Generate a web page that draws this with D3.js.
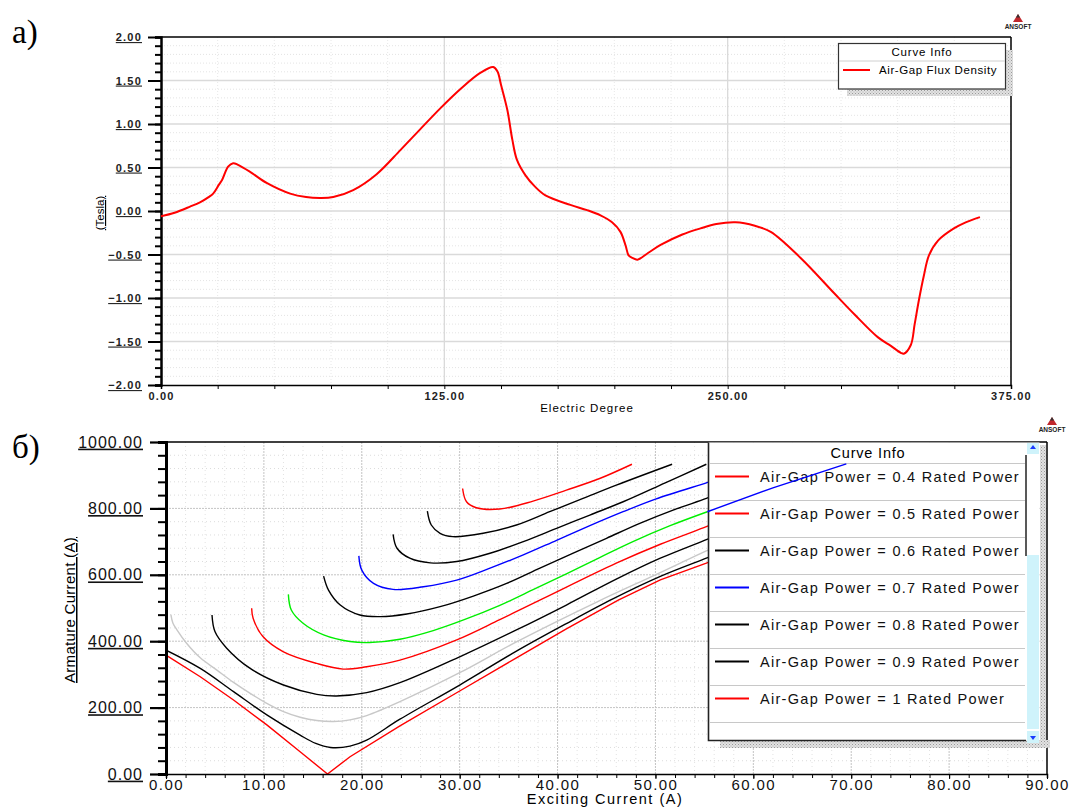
<!DOCTYPE html>
<html><head><meta charset="utf-8">
<script src="https://cdn.jsdelivr.net/npm/d3@7"></script>
<style>body{margin:0;background:#fff}svg{display:block}</style>
</head><body>
<svg id="c" width="1069" height="807"></svg>
<script>
// ================= DATA =================
// Panel а : air-gap flux density vs electric degree
const fluxPoints = [[0,-0.06],[6,-0.02],[12.8,0.05],[17.2,0.10],[21,0.16],[23,0.2],[25.5,0.3],[27,0.36],[29.6,0.51],[31.8,0.55],[34,0.53],[39.3,0.45],[46.8,0.32],[57,0.2],[64,0.16],[70.2,0.15],[76,0.16],[84.8,0.24],[95,0.42],[105.6,0.70],[114,0.93],[123.2,1.18],[132,1.40],[141,1.59],[146.6,1.655],[148.5,1.6],[150,1.45],[152.8,1.16],[155,0.82],[157,0.59],[160.8,0.41],[165,0.28],[169.6,0.18],[180.6,0.07],[188,0.01],[193.9,-0.05],[199,-0.13],[202.7,-0.24],[205,-0.4],[206.3,-0.51],[208,-0.54],[210.2,-0.56],[215,-0.48],[220.4,-0.39],[230,-0.27],[238,-0.2],[245,-0.15],[253.5,-0.13],[262,-0.17],[269,-0.24],[282.2,-0.54],[296.8,-0.94],[306,-1.19],[316.2,-1.45],[322,-1.55],[326.4,-1.63],[327.7,-1.64],[330.8,-1.54],[332.5,-1.3],[334.4,-1.02],[336.5,-0.75],[338.8,-0.51],[342.8,-0.34],[349.8,-0.2],[355,-0.13],[361.3,-0.07]];
const aXTicks = [0,125,250,375];
const aYTicks = [-2,-1.5,-1,-0.5,0,0.5,1,1.5,2];
const aLegendLabels = ["Air-Gap Flux Density"];

// Panel б : V-curves, armature current vs exciting current
const vCurves = [
  [[0,358],[3.5,293],[6.9,223],[10.3,148],[13.7,67],[16.5,0],[18.8,52],[23.9,145],[30,250],[35.8,350],[40.9,437],[46.2,524],[50.5,585],[55.2,635],[56,645]],
  [[0,373],[3.5,318],[6.9,248],[10.3,178],[13.7,117],[15.3,92],[16.8,80],[18.8,84],[20.5,102],[23.9,165],[30,268],[35.8,370],[40.9,453],[45.7,528],[50.5,595],[55.2,650],[56,660]],
  [[0.5,480],[0.7,455],[1.1,435],[2.1,394],[3.5,350],[5.2,313],[6.9,276],[8.6,243],[10.3,213],[12,188],[13.7,171],[15.4,161],[17.1,158],[18.8,163],[20.5,176],[23.9,218],[30,305],[35.8,398],[44,518],[50,600],[55.2,672],[56,682]],
  [[4.7,479],[5.0,429],[6.2,379],[8.6,318],[12,268],[15.4,240],[17.4,235],[20.5,245],[23.9,275],[30,353],[35.8,434],[40.9,509],[46,587],[50.5,650],[55.2,706],[56,716]],
  [[8.75,499],[8.9,469],[9.9,414],[12,368],[15.4,333],[18.1,316],[20.5,323],[23.9,343],[29.7,404],[34.1,465],[38.5,528],[46,635],[50.5,692],[55.2,745],[56,755]],
  [[12.5,541],[12.8,494],[14,454],[16.1,419],[18.8,399],[20.8,396],[23.9,406],[27.3,432],[30.4,464],[34.1,508],[37.5,555],[40.9,603],[44.3,652],[47.7,700],[51.5,748],[55.3,790]],
  [[16.1,596],[16.6,554],[17.8,509],[19.8,479],[21.9,474],[24.6,482],[28,504],[31.4,536],[34.8,574],[38.2,620],[41.6,665],[45,710],[48.4,755],[51.8,795],[55.2,830],[56,840]],
  [[19.7,657],[20,614],[21.2,574],[23.2,556],[26.3,564],[29.7,584],[33.1,620],[36.5,660],[39.9,704],[43.3,748],[46.7,790],[50,828],[55.2,877],[56,885]],
  [[23.2,722],[23.6,680],[24.9,650],[27,636],[29.7,640],[33.1,665],[36.5,700],[39.9,740],[43.3,780],[46.7,820],[51,877],[55.2,933]],
  [[26.7,792],[27.1,750],[28,725],[29.3,715],[32.4,725],[35.8,750],[39.2,790],[42.6,830],[46,870],[51.7,933]],
  [[30.3,860],[30.7,820],[31.7,802],[34.1,798],[37.5,822],[40.9,855],[44.3,890],[47.6,933]]
];
const vCurveColors = ["#ff0000","#000000","#c8c8c8","#000000","#ff0000","#00ee00","#000000","#0000ff","#000000","#000000","#ff0000"];
const overlaySegment = [[55.3,790],[62,862],[69.5,934]];
const bLegendLabels = ["Air-Gap Power = 0.4 Rated Power","Air-Gap Power = 0.5 Rated Power","Air-Gap Power = 0.6 Rated Power","Air-Gap Power = 0.7 Rated Power","Air-Gap Power = 0.8 Rated Power","Air-Gap Power = 0.9 Rated Power","Air-Gap Power = 1 Rated Power"];
const bLegendColors = ["#ff0000","#ff0000","#000000","#0000ff","#000000","#000000","#ff0000"];
const bXTicks = [0,10,20,30,40,50,60,70,80,90];
const bYTicks = [0,200,400,600,800,1000];

// ================= DRAW =================
const FONT = "'Liberation Sans', Arial, sans-serif";
const svg = d3.select('#c');
const defs = svg.append('defs');
const pat = defs.append('pattern').attr('id','hatch').attr('width',3).attr('height',3).attr('patternUnits','userSpaceOnUse');
pat.append('rect').attr('width',3).attr('height',3).attr('fill','#e2e2e2');
pat.append('rect').attr('width',1).attr('height',1).attr('fill','#9a9a9a');
pat.append('rect').attr('x',1.5).attr('y',1.5).attr('width',1).attr('height',1).attr('fill','#b0b0b0');

function logo(x, y) {
  const g = svg.append('g').attr('transform',`translate(${x},${y})`);
  g.append('path').attr('d','M0,-8 L5,0 L-5,0 Z').attr('fill','#c0282d');
  g.append('path').attr('d','M0,-8 L2,-4.5 L-2,-4.5 Z').attr('fill','#333');
  g.append('text').attr('y',7).attr('text-anchor','middle').attr('font-family',FONT)
    .attr('font-size',6.5).attr('font-weight','bold').attr('fill','#222').text('ANSOFT');
}

// ---------- Panel а ----------
{
  const L=161,R=1011,T=37,B=385;
  const x = d3.scaleLinear([0,375],[L,R]);
  const y = d3.scaleLinear([-2,2],[B,T]);
  svg.append('text').attr('x',12).attr('y',43).attr('font-family',"'Liberation Serif', 'Times New Roman', serif")
    .attr('font-size',33).text('а)');
  const g = svg.append('g');
  g.selectAll('.mgy').data(d3.range(-19,20).map(d=>d/10).filter(d=>Math.abs(d*2-Math.round(d*2))>1e-6))
    .join('line').attr('x1',L).attr('x2',R).attr('y1',d=>y(d)).attr('y2',d=>y(d))
    .attr('stroke','#e4e4e4').attr('stroke-dasharray','1,2');
  g.selectAll('.mgx').data([25,50,75,100,150,175,200,225,275,300,325,350])
    .join('line').attr('y1',T).attr('y2',B).attr('x1',d=>x(d)).attr('x2',d=>x(d))
    .attr('stroke','#e8e8e8').attr('stroke-dasharray','1,2');
  g.selectAll('.gy').data(aYTicks.slice(1,-1)).join('line').attr('x1',L).attr('x2',R)
    .attr('y1',d=>y(d)).attr('y2',d=>y(d)).attr('stroke','#dadada').attr('stroke-width',1.3);
  g.selectAll('.gx').data([125,250]).join('line').attr('y1',T).attr('y2',B)
    .attr('x1',d=>x(d)).attr('x2',d=>x(d)).attr('stroke','#dadada').attr('stroke-width',1.3);
  g.append('line').attr('x1',L).attr('x2',R).attr('y1',T).attr('y2',T).attr('stroke','#000').attr('stroke-width',1.5);
  g.append('line').attr('x1',R).attr('x2',R).attr('y1',T).attr('y2',B).attr('stroke','#000').attr('stroke-width',1.5);
  const ya = svg.append('g').attr('transform',`translate(${L},0)`)
    .call(d3.axisLeft(y).tickValues(d3.range(-20,21).map(d=>d/10)).tickSize(6).tickFormat(''));
  ya.select('.domain').attr('stroke-width',2.5);
  ya.selectAll('.tick line').attr('stroke-width',2);
  const yb = svg.append('g').attr('transform',`translate(${L},0)`)
    .call(d3.axisLeft(y).tickValues(aYTicks).tickSize(13).tickPadding(6).tickFormat(d3.format('.2f')));
  yb.select('.domain').remove();
  yb.selectAll('.tick line').attr('stroke-width',2);
  yb.selectAll('text').attr('font-family',FONT).attr('font-size',11).attr('font-weight','bold').attr('letter-spacing',1.2)
    .attr('fill','#222').style('text-decoration','underline');
  const xa = svg.append('g').attr('transform',`translate(0,${B})`)
    .call(d3.axisBottom(x).tickValues(d3.range(0,376,25)).tickSize(4).tickFormat(''));
  xa.select('.domain').attr('stroke-width',1.5);
  const xb = svg.append('g').attr('transform',`translate(0,${B})`)
    .call(d3.axisBottom(x).tickValues(aXTicks).tickSize(0).tickPadding(7).tickFormat(d3.format('.2f')));
  xb.select('.domain').remove();
  xb.selectAll('text').attr('font-family',FONT).attr('font-size',11).attr('font-weight','bold').attr('letter-spacing',1.2).attr('fill','#222');
  svg.append('text').attr('x',587).attr('y',412).attr('text-anchor','middle').attr('font-family',FONT)
    .attr('font-size',11.5).attr('letter-spacing',1).text('Electric Degree');
  svg.append('text').attr('transform','translate(104,213) rotate(-90)').attr('text-anchor','middle')
    .attr('font-family',FONT).attr('font-size',11.5).style('text-decoration','underline').text('(Tesla)');
  svg.append('path').datum(fluxPoints).attr('fill','none').attr('stroke','#ff0000').attr('stroke-width',2)
    .attr('stroke-linejoin','round')
    .attr('d',d3.line().x(d=>x(d[0])).y(d=>y(d[1])).curve(d3.curveCatmullRom.alpha(0.5)));
  const lg = svg.append('g');
  lg.append('rect').attr('x',847).attr('y',89).attr('width',166).attr('height',7).attr('fill','url(#hatch)');
  lg.append('rect').attr('x',1006).attr('y',50).attr('width',7).attr('height',46).attr('fill','url(#hatch)');
  lg.append('rect').attr('x',838.5).attr('y',43.5).attr('width',167).attr('height',45.5).attr('fill','#fff').attr('stroke','#333').attr('stroke-width',1.2);
  lg.append('text').attr('x',922).attr('y',56).attr('text-anchor','middle').attr('font-family',FONT)
    .attr('font-size',11.5).attr('letter-spacing',0.8).text('Curve Info');
  lg.append('line').attr('x1',839).attr('x2',1005).attr('y1',61).attr('y2',61).attr('stroke','#d0d0d0');
  aLegendLabels.forEach((t,i)=>{
    lg.append('line').attr('x1',843).attr('x2',870).attr('y1',70+i*18).attr('y2',70+i*18).attr('stroke','#ff0000').attr('stroke-width',2);
    lg.append('text').attr('x',879).attr('y',74+i*18).attr('font-family',FONT).attr('font-size',11.5)
      .attr('letter-spacing',0.6).text(t);
  });
  logo(1018,22);
}

// ---------- Panel б ----------
{
  const L=166,R=1047,T=442,B=774;
  const x = d3.scaleLinear([0,90],[L,R]);
  const y = d3.scaleLinear([0,1000],[B,T]);
  svg.append('text').attr('x',12).attr('y',458).attr('font-family',"'Liberation Serif', 'Times New Roman', serif")
    .attr('font-size',33).text('б)');
  const g = svg.append('g');
  g.selectAll('.mgy').data(d3.range(40,1000,40).filter(d=>d%200)).join('line')
    .attr('x1',L).attr('x2',R).attr('y1',d=>y(d)).attr('y2',d=>y(d)).attr('stroke','#dcdcdc').attr('stroke-dasharray','1,3');
  g.selectAll('.mgx').data(d3.range(2,90,2).filter(d=>d%10)).join('line')
    .attr('y1',T).attr('y2',B).attr('x1',d=>x(d)).attr('x2',d=>x(d)).attr('stroke','#e2e2e2').attr('stroke-dasharray','1,3');
  g.selectAll('.gy').data([200,400,600,800]).join('line').attr('x1',L).attr('x2',R)
    .attr('y1',d=>y(d)).attr('y2',d=>y(d)).attr('stroke','#c4c4c4').attr('stroke-dasharray','2,1');
  g.selectAll('.gx').data(d3.range(10,90,10)).join('line').attr('y1',T).attr('y2',B)
    .attr('x1',d=>x(d)).attr('x2',d=>x(d)).attr('stroke','#c4c4c4').attr('stroke-dasharray','2,1');
  g.append('line').attr('x1',L).attr('x2',R).attr('y1',T).attr('y2',T).attr('stroke','#000').attr('stroke-width',1.5);
  g.append('line').attr('x1',R).attr('x2',R).attr('y1',T).attr('y2',B).attr('stroke','#000').attr('stroke-width',1.5);
  const clip = defs.append('clipPath').attr('id','clipB');
  clip.append('rect').attr('x',L).attr('y',T).attr('width',R-L).attr('height',B-T);
  const cg = svg.append('g').attr('clip-path','url(#clipB)');
  const lineSmooth = d3.line().x(d=>x(d[0])).y(d=>y(d[1])).curve(d3.curveCatmullRom.alpha(0.5));
  const lineStraight = d3.line().x(d=>x(d[0])).y(d=>y(d[1]));
  cg.selectAll('.vc').data(vCurves).join('path').attr('fill','none')
    .attr('stroke',(d,i)=>vCurveColors[i]).attr('stroke-width',1.4)
    .attr('d',(d,i)=> i===0 ? lineStraight(d) : lineSmooth(d));
  const ya = svg.append('g').attr('transform',`translate(${L},0)`)
    .call(d3.axisLeft(y).tickValues(d3.range(0,1001,40)).tickSize(8).tickFormat(''));
  ya.select('.domain').attr('stroke-width',3);
  ya.selectAll('.tick line').attr('stroke-width',2);
  const yb = svg.append('g').attr('transform',`translate(${L},0)`)
    .call(d3.axisLeft(y).tickValues(bYTicks).tickSize(16).tickPadding(7).tickFormat(d3.format('.2f')));
  yb.select('.domain').remove();
  yb.selectAll('.tick line').attr('stroke-width',2.2);
  yb.selectAll('text').attr('font-family',FONT).attr('font-size',16).attr('letter-spacing',1)
    .attr('fill','#111').style('text-decoration','underline');
  const xa = svg.append('g').attr('transform',`translate(0,${B})`)
    .call(d3.axisBottom(x).tickValues(d3.range(0,91,2)).tickSize(4).tickFormat(''));
  xa.select('.domain').attr('stroke-width',1.5);
  const xb = svg.append('g').attr('transform',`translate(0,${B})`)
    .call(d3.axisBottom(x).tickValues(bXTicks).tickSize(5).tickPadding(0).tickFormat(d3.format('.2f')));
  xb.select('.domain').remove();
  xb.selectAll('text').attr('font-family',FONT).attr('font-size',15).attr('letter-spacing',1.4).attr('fill','#111');
  svg.append('text').attr('x',605).attr('y',804).attr('text-anchor','middle').attr('font-family',FONT)
    .attr('font-size',14.5).attr('letter-spacing',1.5).text('Exciting Current (A)');
  svg.append('text').attr('transform','translate(75,610) rotate(-90)').attr('text-anchor','middle')
    .attr('font-family',FONT).attr('font-size',15).attr('letter-spacing',0.3).style('text-decoration','underline')
    .text('Armature Current (A)');
  const lg = svg.append('g');
  lg.append('rect').attr('x',720).attr('y',740).attr('width',330).attr('height',8).attr('fill','url(#hatch)');
  lg.append('rect').attr('x',1040).attr('y',445).attr('width',6).attr('height',303).attr('fill','url(#hatch)');
  lg.append('rect').attr('x',708.5).attr('y',442.5).attr('width',331).attr('height',297.5).attr('fill','#fff');
  lg.append('path').attr('d','M1026,740.5 L708.5,740.5 L708.5,442.5').attr('fill','none').attr('stroke','#222').attr('stroke-width',1.6);
  lg.append('rect').attr('x',1027).attr('y',443).attr('width',12).attr('height',300).attr('fill','#cff3fb');
  lg.append('rect').attr('x',1027).attr('y',454).attr('width',12).attr('height',101).attr('fill','#fff');
  lg.append('line').attr('x1',1026).attr('x2',1026).attr('y1',455).attr('y2',556).attr('stroke','#222').attr('stroke-width',1.5);
  lg.append('rect').attr('x',1027).attr('y',729).attr('width',12).attr('height',2).attr('fill','#fff');
  lg.append('path').attr('d','M1030,449 L1036,449 L1033,445 Z').attr('fill','#1a3cff');
  lg.append('path').attr('d','M1030,736 L1036,736 L1033,740 Z').attr('fill','#1a3cff');
  lg.append('text').attr('x',868).attr('y',458).attr('text-anchor','middle').attr('font-family',FONT)
    .attr('font-size',14.5).attr('letter-spacing',0.8).text('Curve Info');
  lg.selectAll('.sep').data(d3.range(8)).join('line').attr('x1',710).attr('x2',1025)
    .attr('y1',d=>463.5+d*37).attr('y2',d=>463.5+d*37).attr('stroke','#c8c8c8').attr('stroke-width',1.2);
  lg.selectAll('.ls').data(bLegendLabels).join('line').attr('x1',715).attr('x2',749)
    .attr('y1',(d,i)=>476.5+i*37).attr('y2',(d,i)=>476.5+i*37).attr('stroke',(d,i)=>bLegendColors[i]).attr('stroke-width',2.2);
  lg.selectAll('.lt').data(bLegendLabels).join('text').attr('x',760).attr('y',(d,i)=>482+i*37)
    .attr('font-family',FONT).attr('font-size',14.5).attr('letter-spacing',1.3).attr('fill','#111').text(d=>d);
  svg.append('path').datum(overlaySegment).attr('fill','none').attr('stroke','#0000ff').attr('stroke-width',1.4)
    .attr('d',lineStraight);
  logo(1052,425);
}
</script>
</body></html>
